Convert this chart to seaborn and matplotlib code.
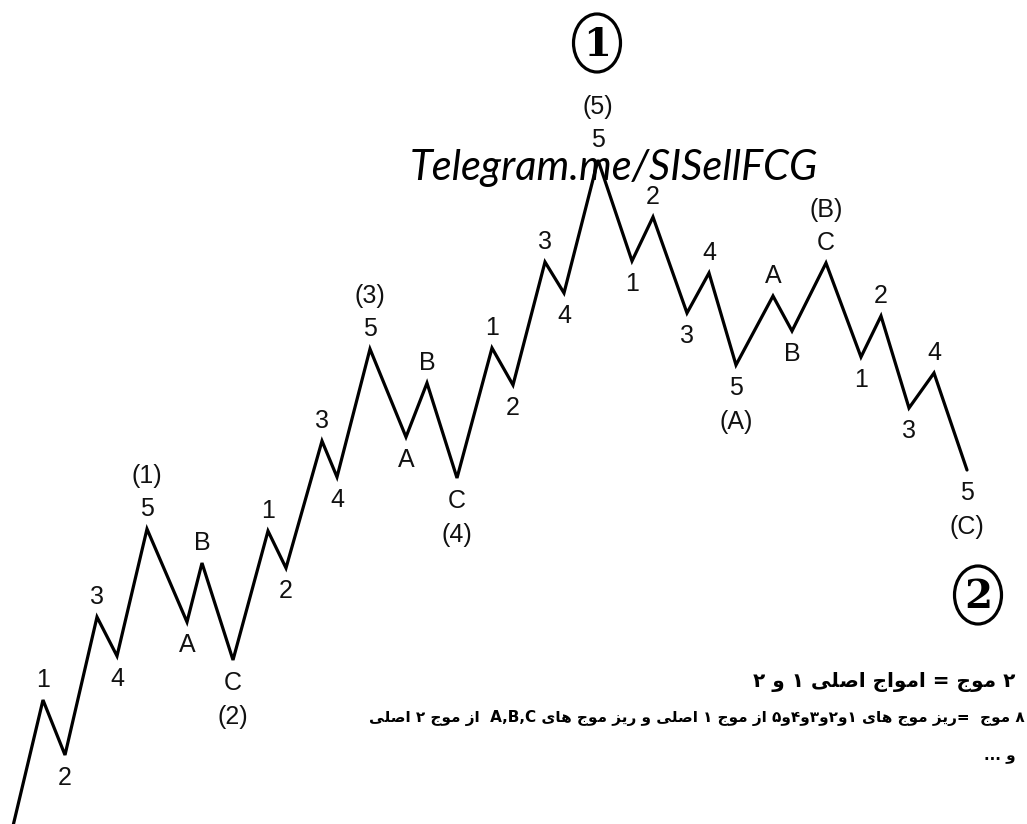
import re
import matplotlib
matplotlib.use("Agg")
import matplotlib.pyplot as plt
from matplotlib.patches import Ellipse
import seaborn as sns
import pandas as pd

sns.set_theme(style="white")
plt.rcParams['font.family'] = ['Liberation Sans', 'DejaVu Sans']

# ---- Elliott wave vertices (picture pixels, y down) ----
wave_x = [13, 43, 65, 97, 117, 147, 187, 202, 233, 268, 286, 322, 337, 370,
          406, 427, 457, 492, 513, 545, 564, 598, 632, 653, 687, 709, 736,
          773, 792, 826, 861, 881, 909, 934, 967]
wave_y = [826, 700, 755, 617, 656, 529, 622, 563, 660, 531, 568, 441, 477, 349,
          437, 383, 478, 348, 385, 262, 293, 160, 261, 217, 313, 273, 365,
          296, 331, 263, 357, 316, 408, 373, 470]

# labels for vertices 1..34
minor_labels = ["1", "2", "3", "4", "5", "A", "B", "C",
                "1", "2", "3", "4", "5", "A", "B", "C",
                "1", "2", "3", "4", "5",
                "1", "2", "3", "4", "5", "A", "B", "C",
                "1", "2", "3", "4", "5"]
major_idx = [5, 8, 13, 16, 21, 26, 29, 34]
major_labels = ["(1)", "(2)", "(3)", "(4)", "(5)", "(A)", "(B)", "(C)"]
degree_idx = [21, 34]
degree_labels = ["1", "2"]

watermark = "Telegram.me/SISellFCG"
# notes in normal (logical) reading order
note_lines = ["۲ موج = امواج اصلی ۱ و ۲",
              "۸ موج  =ریز موج های ۱و۲و۳و۴و۵ از موج ۱ اصلی و ریز موج های A,B,C  از موج ۲ اصلی",
              "و ..."]

# ---- contextual letter forms + right-to-left ordering for the notes ----
FORMS = {
    'ا': ('\uFE8D', '\uFE8E', None, None),
    'م': ('\uFEE1', '\uFEE2', '\uFEE3', '\uFEE4'),
    'و': ('\uFEED', '\uFEEE', None, None),
    'ج': ('\uFE9D', '\uFE9E', '\uFE9F', '\uFEA0'),
    'ل': ('\uFEDD', '\uFEDE', '\uFEDF', '\uFEE0'),
    'ص': ('\uFEB9', '\uFEBA', '\uFEBB', '\uFEBC'),
    'ی': ('\uFBFC', '\uFBFD', '\uFBFE', '\uFBFF'),
    'ر': ('\uFEAD', '\uFEAE', None, None),
    'ز': ('\uFEAF', '\uFEB0', None, None),
    'ه': ('\uFEE9', '\uFEEA', '\uFEEB', '\uFEEC'),
}


def fa(text):
    text = text.replace('\u064a', '\u06cc')
    for k in range(10):
        text = text.replace(chr(0x0660 + k), chr(0x06F0 + k))
    out = []
    for i, ch in enumerate(text):
        if ch not in FORMS:
            out.append(ch)
            continue
        f = FORMS[ch]
        prev = i > 0 and text[i - 1] in FORMS and FORMS[text[i - 1]][2] is not None
        nxt = i < len(text) - 1 and text[i + 1] in FORMS and f[2] is not None
        if prev and nxt:
            out.append(f[3])
        elif prev:
            out.append(f[1])
        elif nxt:
            out.append(f[2])
        else:
            out.append(f[0])
    rev = "".join(out)[::-1]
    # latin runs keep left-to-right order
    return re.sub(r"[A-Za-z0-9][A-Za-z0-9,]*[A-Za-z0-9]",
                  lambda m: m.group(0)[::-1], rev)


df = pd.DataFrame({"x": wave_x, "y": wave_y})

fig = plt.figure(figsize=(10.27, 8.24), dpi=100)
ax = fig.add_axes([0, 0, 1, 1])
sns.lineplot(data=df, x="x", y="y", sort=False, estimator=None,
             color="black", linewidth=2.3, ax=ax)
for l in ax.lines:
    l.set_solid_joinstyle("miter")

# peak / trough labels
for i, lab in enumerate(minor_labels, start=1):
    peak = wave_y[i] < wave_y[i - 1]
    ax.annotate(lab, (wave_x[i], wave_y[i]), xytext=(0, 20 if peak else -23),
                textcoords="offset pixels", ha="center", va="center",
                fontsize=18, color="#111111")

for i, lab in zip(major_idx, major_labels):
    peak = wave_y[i] < wave_y[i - 1]
    ax.annotate(lab, (wave_x[i], wave_y[i]), xytext=(0, 53 if peak else -57),
                textcoords="offset pixels", ha="center", va="center",
                fontsize=18, color="#111111")

# circled degree labels
offsets = [(-1, -117), (11, 125)]
for i, lab, (dx, dy) in zip(degree_idx, degree_labels, offsets):
    cx, cy = wave_x[i] + dx, wave_y[i] + dy
    ax.add_patch(Ellipse((cx, cy), 47, 58, fill=False, ec="black", lw=2.3))
    ax.text(cx, cy + 2, lab, ha="center", va="center", fontsize=29,
            fontweight="bold", family=["DejaVu Serif"], color="black")

# watermark
ax.text(614, 168, watermark, ha="center", va="center", fontsize=30,
        family=["Lato", "DejaVu Sans"], style="italic", fontweight="normal",
        color="black")

# Persian notes (right aligned)
ax.text(1015, 682, fa(note_lines[0]), ha="right", va="center", fontsize=14.4,
        fontweight="bold", family=["DejaVu Sans"], color="black")
ax.text(1025, 718, fa(note_lines[1]), ha="right", va="center", fontsize=11,
        fontweight="bold", family=["DejaVu Sans"], color="black")
ax.text(1016, 757, fa(note_lines[2]), ha="right", va="center", fontsize=11,
        fontweight="bold", family=["DejaVu Sans"], color="black")

ax.set_xlim(0, 1027)
ax.set_ylim(824, 0)
ax.axis("off")

fig.savefig("out.png", dpi=100, facecolor="white")
plt.close(fig)
